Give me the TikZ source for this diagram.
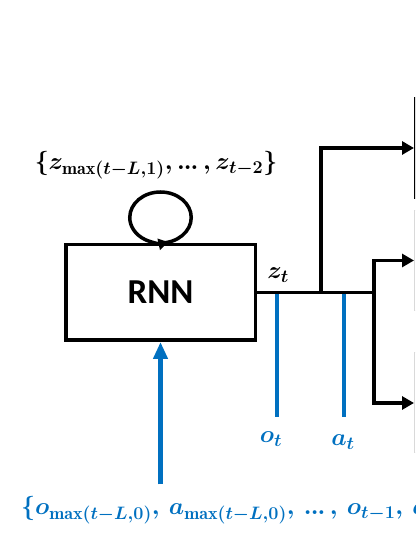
\RequirePackage{fix-cm}
\documentclass[tikz,border=0pt]{standalone}
\usepackage{fontspec}
\usepackage{amsmath}
\newfontfamily\calibri{Carlito}
\DeclareMathSizes{24.3}{24.3}{18}{13.5}
\usetikzlibrary{arrows.meta,calc}
\definecolor{officeblue}{RGB}{0,112,192}
\tikzstyle{block}=[draw, line width=3.5pt, minimum width=189.5pt, minimum height=95.5pt, inner sep=0pt]
\tikzstyle{head}=[draw, minimum width=120pt, minimum height=100pt, anchor=west]
\tikzstyle{line}=[draw, line width=3.5pt, -{Triangle[length=12pt,width=13pt]}]
\tikzstyle{feed}=[draw=officeblue, line width=4.5pt]
\tikzstyle{lbl}=[inner sep=0pt, font=\fontsize{24.3}{29}\selectfont\boldmath]
\newcommand{\tdots}{\mathinner{.\kern-1pt.\kern-1pt.}}

\begin{document}
\begin{tikzpicture}[x=1pt, y=1pt]
  \useasboundingbox (0,0) rectangle (415,537);
  \clip (0,0) rectangle (415,537);

  % rnn block and its loop
  \node[block, font=\calibri\bfseries\fontsize{35}{40}\selectfont] (rnn) at (160.5,244.5) {RNN};
  \draw[line width=3.5pt, -{Triangle[length=10pt,width=11pt]}] (rnn.north)
    arc[start angle=-90, end angle=285, x radius=30.75, y radius=25.5];
  \node[lbl] (hist) at (156,372) {$\{z_{\max(t-L,1)},\tdots,z_{t-2}\}$};

  % heads, cut by the right edge
  \node[head, line width=2pt] (head1) at (414,389) {};
  \node[head, draw=black!15, line width=1pt] (head2) at (414,276.5) {};
  \node[head, draw=black!15, line width=1pt] (head3) at (414,134) {};

  % output z_t
  \path (rnn.east) ++(64,0) coordinate (split1) ++(53,0) coordinate (split2);
  \draw[line width=3.5pt] (rnn.east) -- (split2);
  \draw[line] (split1) |- (head1.west);
  \draw[line] (split2) |- (head2.west);
  \draw[line] (split2) |- (head3.west);
  \node[lbl] (zt) at (278,262) {$z_t$};

  % o_t and a_t
  \node[lbl, text=officeblue] (ot) at (271,98) {$o_t$};
  \node[lbl, text=officeblue] (at) at (343,95) {$a_t$};
  \coordinate (otop) at (277,242.5);
  \coordinate (atop) at (344,242.5);
  \draw[feed] (otop) -- (otop |- 0,120);
  \draw[feed] (atop) -- (atop |- 0,120);

  % inputs
  \node[lbl, text=officeblue, anchor=west] (inputs) at (21,27)
    {$\{o_{\max(t-L,0)},\,a_{\max(t-L,0)},\,\tdots,\,o_{t-1},\,a_{t-1}\}$};
  \path (rnn.south) ++(0,-142.5) coordinate (feedin);
  \draw[feed, -{Triangle[length=17pt,width=14pt]}] (feedin) -- (rnn.south);
\end{tikzpicture}
\end{document}
